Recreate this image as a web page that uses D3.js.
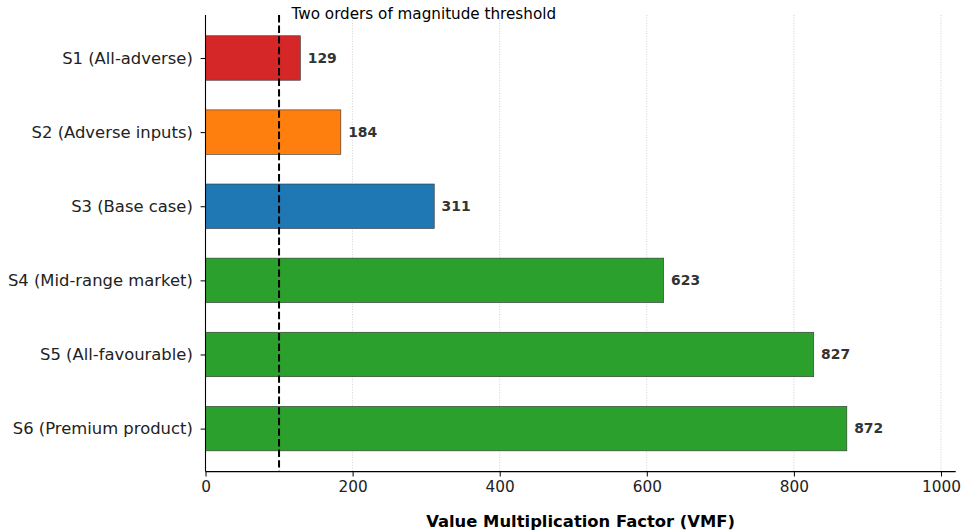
<!DOCTYPE html>
<html><head><meta charset="utf-8">
<script src="https://cdn.jsdelivr.net/npm/d3@7"></script>
<style>body{margin:0;background:#fff;} svg{display:block;font-family:"DejaVu Sans",sans-serif;}</style>
</head><body>
<script>
const categories = ["S1 (All-adverse)","S2 (Adverse inputs)","S3 (Base case)","S4 (Mid-range market)","S5 (All-favourable)","S6 (Premium product)"];
const values = [129, 184, 311, 623, 827, 872];
const colors = ["#d62728","#ff7f0e","#1f77b4","#2ca02c","#2ca02c","#2ca02c"];
const xTicks = [0,200,400,600,800,1000];
const threshold = 100;
const thresholdLabel = "Two orders of magnitude threshold";
const xLabel = "Value Multiplication Factor (VMF)";

const W = 961, H = 530;
const m = {left:205.5, right:W-955.7, top:15, bottom:H-471.6};
const svg = d3.select("body").append("svg").attr("width",W).attr("height",H);
const x = d3.scaleLinear().domain([0,1020]).range([m.left, W-m.right]);
const y = d3.scaleLinear().domain([5.58,-0.58]).range([H-m.bottom, m.top]);
const bh = y(0.3)-y(-0.3);

// grid
svg.append("g").selectAll("line").data(xTicks.filter(d=>d>0)).join("line")
  .attr("x1",d=>x(d)).attr("x2",d=>x(d)).attr("y1",m.top).attr("y2",H-m.bottom)
  .attr("stroke","#b0b0b0").attr("stroke-width",0.8).attr("stroke-dasharray","1,1.6").attr("opacity",0.7);

// bars
svg.append("g").selectAll("rect").data(values).join("rect")
  .attr("x",x(0)).attr("y",(d,i)=>y(i)-bh/2).attr("width",d=>x(d)-x(0)).attr("height",bh)
  .attr("fill",(d,i)=>colors[i]).attr("stroke","#333").attr("stroke-width",0.6);

// value labels
svg.append("g").selectAll("text").data(values).join("text")
  .attr("x",d=>x(d+10)).attr("y",(d,i)=>y(i)).attr("dy","0.35em")
  .attr("font-size",13.9).attr("font-weight","bold").attr("fill","#333").text(d=>d);

// threshold
svg.append("line").attr("x1",x(threshold)).attr("x2",x(threshold)).attr("y1",m.top).attr("y2",H-m.bottom)
  .attr("stroke","#000").attr("stroke-width",2).attr("stroke-dasharray","7.4,3.2");
svg.append("text").attr("x",x(threshold)+12.5).attr("y",18.5).attr("font-size",15.2).attr("fill","#000").text(thresholdLabel);

// axes
const xa = svg.append("g").attr("transform",`translate(0,${H-m.bottom})`)
  .call(d3.axisBottom(x).tickValues(xTicks).tickSize(4.9).tickPadding(4.5).tickFormat(d3.format("d")));
xa.selectAll("text").attr("font-size",15.3).attr("fill","#222").attr("font-family","DejaVu Sans");
xa.select(".domain").attr("stroke","#000").attr("stroke-width",1.1).attr("d",`M${x(0)},0H${W-m.right}`);
xa.selectAll(".tick line").attr("stroke","#000").attr("stroke-width",1);

const ya = svg.append("g").attr("transform",`translate(${m.left},0)`)
  .call(d3.axisLeft(y).tickValues(d3.range(categories.length)).tickSize(4.9).tickPadding(7.8).tickFormat(i=>categories[i]));
ya.selectAll("text").attr("font-size",16.4).attr("fill","#222").attr("font-family","DejaVu Sans");
ya.select(".domain").attr("stroke","#000").attr("stroke-width",1.1).attr("d",`M0,${m.top}V${H-m.bottom}`);
ya.selectAll(".tick line").attr("stroke","#000").attr("stroke-width",1);

svg.append("text").attr("x",(x(0)+W-m.right)/2).attr("y",526.5).attr("text-anchor","middle")
  .attr("font-size",16.4).attr("font-weight","bold").attr("fill","#000").text(xLabel);
</script>
</body></html>
